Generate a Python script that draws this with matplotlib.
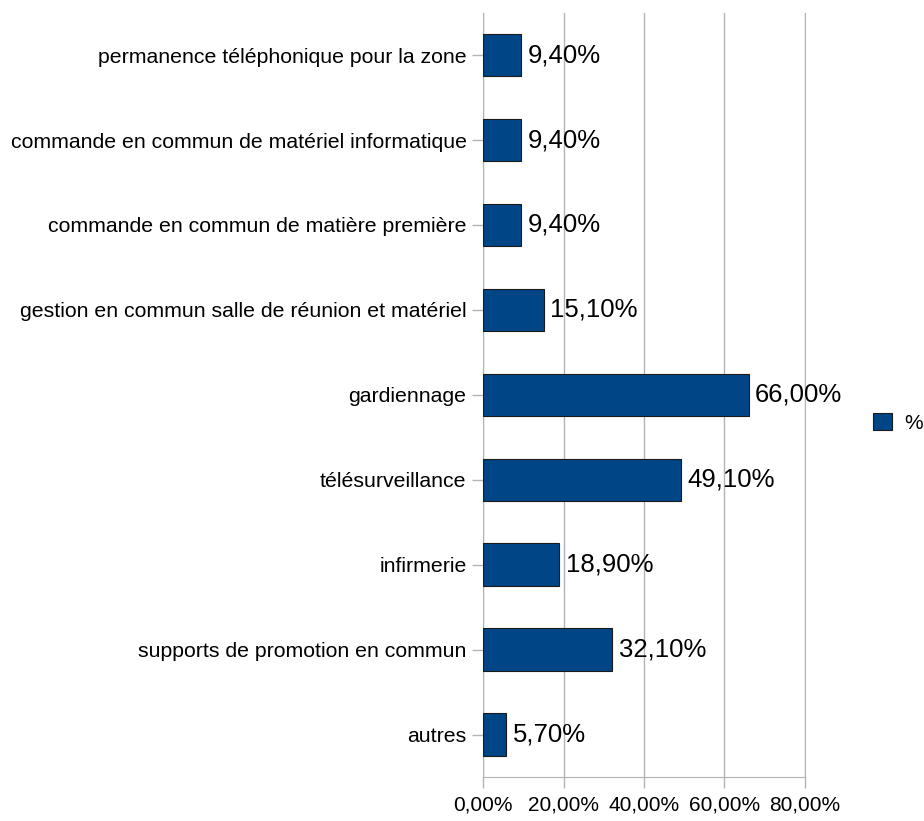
import matplotlib.pyplot as plt
from matplotlib.patches import Patch

plt.rcParams['font.family'] = ['Liberation Sans', 'DejaVu Sans']

# données (de haut en bas dans le graphique)
categories = [
    "permanence téléphonique pour la zone",
    "commande en commun de matériel informatique",
    "commande en commun de matière première",
    "gestion en commun salle de réunion et matériel",
    "gardiennage",
    "télésurveillance",
    "infirmerie",
    "supports de promotion en commun",
    "autres",
]
values = [9.4, 9.4, 9.4, 15.1, 66.0, 49.1, 18.9, 32.1, 5.7]
xticks = [0, 20, 40, 60, 80]

BAR_COLOR = "#004586"
GRID_COLOR = "#b3b3b3"

fig = plt.figure(figsize=(9.24, 8.21), dpi=100)
ax = fig.add_axes([0.523, 0.0536, 0.348, 0.931])

ypos = list(range(len(categories)))[::-1]
ax.barh(ypos, values, height=0.5, color=BAR_COLOR, edgecolor="#1a1a1a",
        linewidth=0.8, zorder=3)

for y, v in zip(ypos, values):
    ax.text(v + 1.6, y, f"{v:.2f}".replace(".", ",") + "%",
            va="center", ha="left", fontsize=18.5, zorder=4)

ax.set_xlim(0, 80)
ax.set_ylim(-0.5, len(categories) - 0.5)
ax.set_xticks(xticks)
ax.set_xticklabels([f"{t:.2f}".replace(".", ",") + "%" for t in xticks],
                   fontsize=15)
ax.set_yticks(ypos)
ax.set_yticklabels(categories, fontsize=15.3)

ax.grid(axis="x", color=GRID_COLOR, linewidth=1, zorder=0)
ax.spines["top"].set_visible(False)
for s in ["left", "bottom", "right"]:
    ax.spines[s].set_color(GRID_COLOR)
ax.tick_params(axis="both", color=GRID_COLOR, length=8, width=1)
ax.tick_params(axis="x", pad=5)
ax.tick_params(axis="y", pad=4)

leg = fig.legend(handles=[Patch(facecolor=BAR_COLOR, edgecolor="#1a1a1a",
                                linewidth=0.8, label="%")],
                 loc="center left", bbox_to_anchor=(0.925, 0.485),
                 frameon=False, fontsize=15, handlelength=0.9,
                 handleheight=0.9, handletextpad=0.6)

fig.savefig("out.png", dpi=100)
